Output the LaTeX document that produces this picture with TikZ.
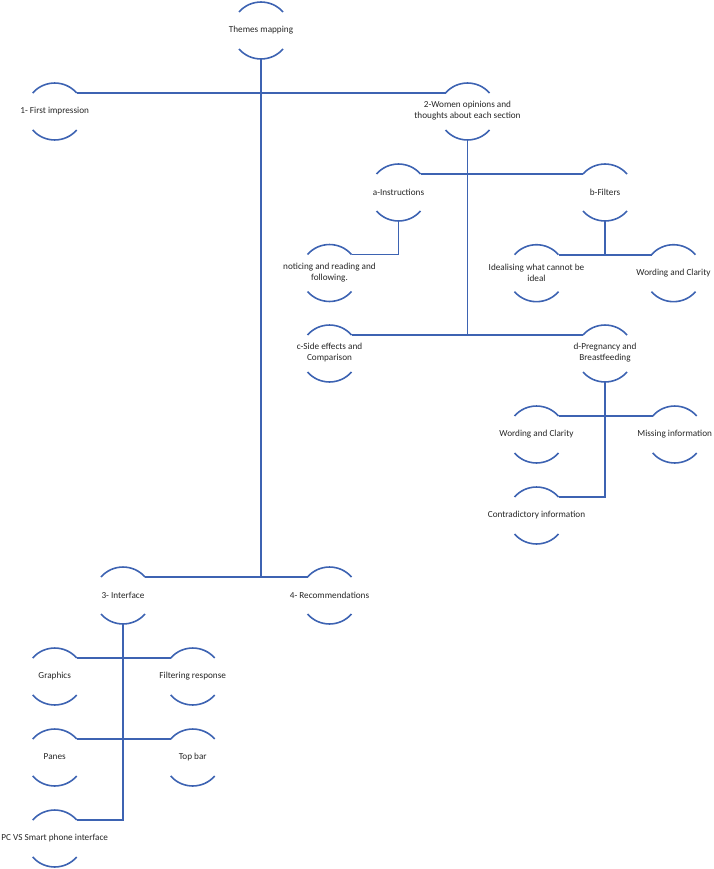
\documentclass[tikz,border=0pt]{standalone}
\usepackage{fontspec}
\setmainfont{Carlito}
\definecolor{lnblue}{RGB}{61,99,178}
\tikzset{
  ln/.style={draw=lnblue, line width=1.6pt},
  lbl/.style={font=\fontsize{9.2}{11}\selectfont, align=center, inner sep=0pt, text=black!85}
}
\newcommand\brknode[4]{%
  \node[lbl] (#1) at (#2,#3) {#4};
  \draw[ln] (#2-22,#3-18) coordinate (#1-tl)
     .. controls (#2-10.4,#3-31.3) and (#2+10.4,#3-31.3) .. (#2+22,#3-18) coordinate (#1-tr);
  \draw[ln] (#2-22,#3+19)
     .. controls (#2-10.4,#3+32.3) and (#2+10.4,#3+32.3) .. (#2+22,#3+19);
  \coordinate (#1-b) at (#2,#3+29);
}
\begin{document}
\begin{tikzpicture}[x=1pt,y=-1pt]
\useasboundingbox (0,0) rectangle (713,869);
\brknode{theme}{261}{30}{Themes mapping}
\brknode{first}{54.7}{111}{1- First impression}
\brknode{women}{467.5}{111}{2-Women opinions and\\thoughts about each section}
\brknode{ainst}{398.5}{192}{a-Instructions}
\brknode{bfilt}{605}{192}{b-Filters}
\brknode{notic}{329.5}{272.5}{noticing and reading and\\following.}
\brknode{ideal}{536.5}{272.7}{Idealising what cannot be\\ideal}
\brknode{wordA}{673.5}{272.7}{Wording and Clarity}
\brknode{cside}{329.5}{353}{c-Side effects and\\Comparison}
\brknode{dpreg}{605}{353}{d-Pregnancy and\\Breastfeeding}
\brknode{wordB}{536.5}{434}{Wording and Clarity}
\brknode{missing}{674.7}{434}{Missing information}
\brknode{contra}{536.5}{515}{Contradictory information}
\brknode{interface}{123}{595}{3- Interface}
\brknode{recom}{329.5}{595}{4- Recommendations}
\brknode{graphics}{54.7}{676}{Graphics}
\brknode{filtering}{192.7}{676}{Filtering response}
\brknode{panes}{54.7}{757}{Panes}
\brknode{topbar}{192.7}{757}{Top bar}
\brknode{pc}{54.7}{838}{PC VS Smart phone interface}

\draw[ln] (theme-b) -- (theme-b |- interface-tr);
\draw[ln] (first-tr) -- (women-tl);
\draw[ln] (interface-tr) -- (recom-tl);
\draw[ln] (women-b) -- (women-b |- cside-tr);
\draw[ln] (ainst-tr) -- (bfilt-tl);
\draw[ln] (cside-tr) -- (dpreg-tl);
\draw[ln] (ainst-b) |- (notic-tr);
\draw[ln] (bfilt-b) -- (bfilt-b |- ideal-tr);
\draw[ln] (ideal-tr) -- (wordA-tl);
\draw[ln] (dpreg-b) |- (contra-tr);
\draw[ln] (wordB-tr) -- (missing-tl);
\draw[ln] (interface-b) |- (pc-tr);
\draw[ln] (graphics-tr) -- (filtering-tl);
\draw[ln] (panes-tr) -- (topbar-tl);
\end{tikzpicture}
\end{document}
